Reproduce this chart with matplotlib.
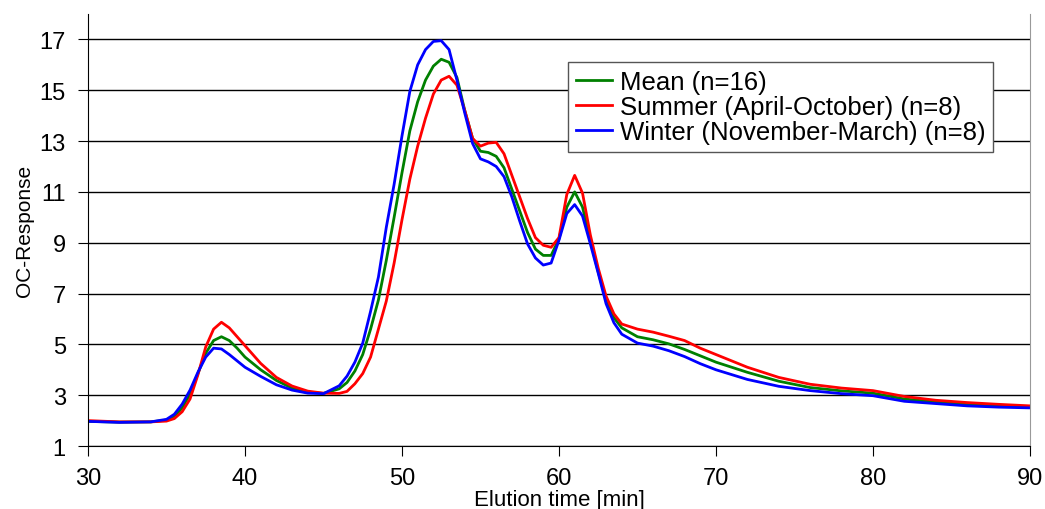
import matplotlib.pyplot as plt

plt.rcParams['font.family'] = ['Liberation Sans', 'DejaVu Sans']

# elution time [min]
time = [30, 32, 34, 35, 35.5, 36, 36.5, 37, 37.5, 38, 38.5, 39, 39.5, 40, 41, 42, 43, 44, 45,
        46, 46.5, 47, 47.5, 48, 48.5, 49, 49.5, 50, 50.5, 51, 51.5, 52, 52.5, 53, 53.5, 54,
        54.5, 55, 55.5, 56, 56.5, 57, 57.5, 58, 58.5, 59, 59.5, 60, 60.5, 61, 61.5, 62, 62.5,
        63, 63.5, 64, 65, 66, 67, 68, 69, 70, 72, 74, 76, 78, 80, 82, 84, 86, 88, 90]

mean = [1.97, 1.94, 1.95, 2.02, 2.15, 2.5, 3.05, 3.85, 4.65, 5.15, 5.3, 5.15, 4.85, 4.5, 4.0,
        3.58, 3.28, 3.12, 3.07, 3.25, 3.5, 3.95, 4.6, 5.6, 6.75, 8.3, 10.0, 11.75, 13.4, 14.55,
        15.4, 15.95, 16.22, 16.1, 15.5, 14.2, 13.1, 12.6, 12.55, 12.4, 11.95, 11.1, 10.25, 9.4,
        8.75, 8.5, 8.5, 9.15, 10.4, 11.0, 10.4, 9.1, 7.85, 6.75, 6.05, 5.65, 5.3, 5.18, 5.02,
        4.8, 4.55, 4.3, 3.9, 3.55, 3.3, 3.17, 3.08, 2.85, 2.73, 2.64, 2.58, 2.53]

summer = [2.0, 1.95, 1.95, 1.98, 2.08, 2.35, 2.85, 3.8, 4.9, 5.6, 5.87, 5.65, 5.3, 4.95, 4.25,
          3.7, 3.36, 3.16, 3.08, 3.07, 3.15, 3.45, 3.85, 4.5, 5.6, 6.7, 8.2, 9.9, 11.5, 12.8,
          13.9, 14.85, 15.4, 15.55, 15.2, 14.2, 13.1, 12.8, 12.92, 12.95, 12.5, 11.65, 10.8,
          9.95, 9.2, 8.9, 8.82, 9.2, 10.9, 11.65, 10.95, 9.3, 8.0, 6.9, 6.2, 5.8, 5.6, 5.48,
          5.32, 5.15, 4.85, 4.6, 4.1, 3.7, 3.43, 3.28, 3.18, 2.95, 2.8, 2.71, 2.64, 2.58]

winter = [1.97, 1.93, 1.95, 2.05, 2.25, 2.65, 3.2, 3.9, 4.5, 4.85, 4.82, 4.6, 4.35, 4.1, 3.74,
          3.41, 3.2, 3.08, 3.06, 3.37, 3.75, 4.3, 5.05, 6.3, 7.65, 9.6, 11.3, 13.2, 14.95, 16.0,
          16.6, 16.92, 16.95, 16.6, 15.4, 14.1, 12.9, 12.3, 12.18, 12.0, 11.6, 10.8, 9.85, 8.95,
          8.4, 8.12, 8.2, 9.1, 10.15, 10.5, 10.05, 8.95, 7.8, 6.6, 5.85, 5.4, 5.05, 4.93, 4.75,
          4.52, 4.24, 4.0, 3.62, 3.35, 3.18, 3.06, 2.98, 2.76, 2.67, 2.58, 2.53, 2.5]

yticks = [1, 3, 5, 7, 9, 11, 13, 15, 17]
xticks = [30, 40, 50, 60, 70, 80, 90]

fig = plt.figure(figsize=(10.45, 5.1), dpi=100)
ax = fig.add_axes([0.0842, 0.1235, 0.9014, 0.8471])

ax.plot(time, mean, color='#008000', lw=2, label='Mean (n=16)')
ax.plot(time, summer, color='#ff0000', lw=2, label='Summer (April-October) (n=8)')
ax.plot(time, winter, color='#0000ff', lw=2, label='Winter (November-March) (n=8)')

ax.set_xlim(30, 90)
ax.set_ylim(1, 18)
ax.set_xticks(xticks)
ax.set_yticks(yticks)
ax.tick_params(labelsize=17, length=7, color='black', direction='out')
ax.tick_params(axis='x', pad=8)
ax.tick_params(axis='y', pad=9)
ax.grid(axis='y', color='black', lw=1)
ax.set_axisbelow(True)

ax.spines['top'].set_visible(False)
ax.spines['right'].set_color('#999999')

ax.set_ylabel('OC-Response', fontsize=15, labelpad=4)
ax.set_xlabel('Elution time [min]', fontsize=16, labelpad=0)

leg = ax.legend(loc='upper left', bbox_to_anchor=(0.51, 0.889), fontsize=18.5,
                frameon=True, fancybox=False, edgecolor='#555555', framealpha=1,
                handlelength=1.4, handletextpad=0.3, labelspacing=0.05, borderpad=0.3,
                borderaxespad=0)
leg.get_frame().set_linewidth(1)

plt.savefig('out.png', dpi=100)
plt.close()
